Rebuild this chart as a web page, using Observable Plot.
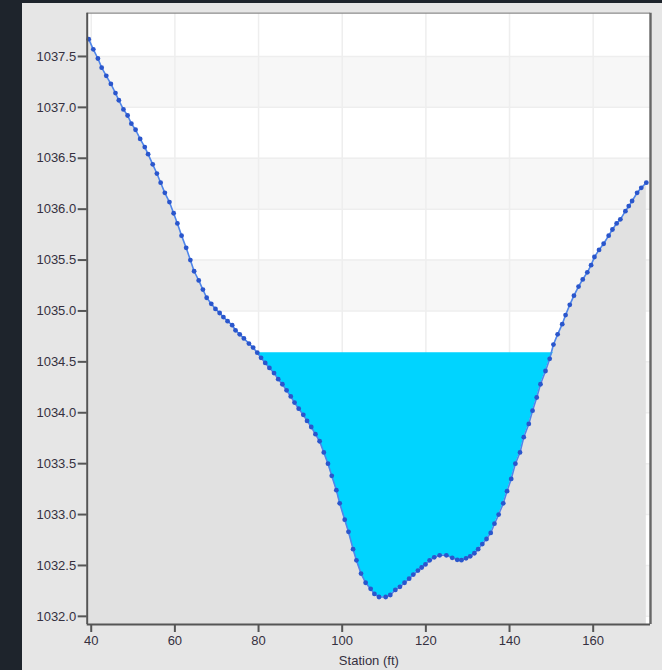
<!DOCTYPE html>
<html>
<head>
<meta charset="utf-8">
<script src="https://cdn.jsdelivr.net/npm/d3@7"></script>
<script src="https://cdn.jsdelivr.net/npm/@observablehq/plot@0.6"></script>
<style>
  html, body { margin: 0; padding: 0; background: #1e242c; width: 662px; height: 670px; overflow: hidden; }
  #panel { position: absolute; left: 22px; top: 3px; width: 640px; height: 667px; background: #e6e6e6; }
  #panel svg { display: block; }
</style>
</head>
<body>
<div id="panel"></div>
<script>
// Ground profile: station (ft) and elevation (ft)
const station = [
  39.4, 40.5, 41.6, 42.5, 43.6, 44.7, 45.8, 46.6, 47.7, 48.7,
  49.6, 50.6, 51.7, 52.8, 53.6, 54.7, 55.7, 56.6, 57.6, 58.7,
  59.7, 60.6, 61.6, 62.7, 63.7, 64.6, 65.7, 66.7, 67.6, 68.7,
  69.7, 70.7, 71.6, 72.6, 73.7, 74.5, 75.5, 76.5, 77.7, 78.7,
  79.7, 80.6, 81.6, 82.6, 83.7, 84.7, 85.7, 86.7, 87.7, 88.6,
  89.6, 90.7, 91.6, 92.6, 93.6, 94.6, 95.6, 96.6, 97.5, 98.6,
  99.4, 100.6, 101.5, 102.6, 103.4, 104.5, 105.6, 106.8, 107.7, 108.8,
  110.4, 111.5, 112.7, 113.8, 114.9, 116.0, 117.0, 118.1, 119.0, 119.9,
  120.9, 122.0, 123.3, 124.9, 126.3, 127.5, 128.5, 129.6, 130.6, 131.6,
  132.5, 133.5, 134.5, 135.5, 136.4, 137.4, 138.5, 139.4, 140.4, 141.4,
  142.5, 143.4, 144.6, 145.5, 146.5, 147.4, 148.6, 149.6, 150.5, 151.5,
  152.6, 153.4, 154.4, 155.4, 156.5, 157.5, 158.6, 159.5, 160.3, 161.4,
  162.5, 163.7, 164.6, 165.6, 166.5, 167.7, 168.5, 169.3, 170.5, 171.5,
  172.7
];
const elevation = [
  1037.67, 1037.57, 1037.48, 1037.39, 1037.31, 1037.23, 1037.14, 1037.07, 1036.98, 1036.92,
  1036.84, 1036.78, 1036.69, 1036.61, 1036.54, 1036.44, 1036.35, 1036.26, 1036.16, 1036.07,
  1035.96, 1035.86, 1035.74, 1035.62, 1035.50, 1035.39, 1035.30, 1035.21, 1035.13, 1035.07,
  1035.02, 1034.98, 1034.94, 1034.90, 1034.86, 1034.81, 1034.77, 1034.73, 1034.68, 1034.64,
  1034.59, 1034.54, 1034.49, 1034.44, 1034.39, 1034.33, 1034.28, 1034.22, 1034.16, 1034.10,
  1034.04, 1033.98, 1033.92, 1033.86, 1033.79, 1033.72, 1033.61, 1033.50, 1033.38, 1033.24,
  1033.11, 1032.95, 1032.83, 1032.66, 1032.55, 1032.42, 1032.33, 1032.27, 1032.22, 1032.19,
  1032.19, 1032.21, 1032.26, 1032.29, 1032.33, 1032.37, 1032.41, 1032.45, 1032.48, 1032.51,
  1032.55, 1032.58, 1032.60, 1032.60, 1032.575, 1032.555, 1032.552, 1032.57, 1032.59, 1032.62,
  1032.66, 1032.71, 1032.76, 1032.82, 1032.91, 1033.00, 1033.11, 1033.23, 1033.35, 1033.50,
  1033.61, 1033.76, 1033.89, 1034.02, 1034.15, 1034.28, 1034.41, 1034.53, 1034.67, 1034.77,
  1034.87, 1034.96, 1035.06, 1035.15, 1035.24, 1035.31, 1035.38, 1035.45, 1035.53, 1035.60,
  1035.66, 1035.74, 1035.80, 1035.86, 1035.90, 1035.98, 1036.03, 1036.08, 1036.16, 1036.21,
  1036.26
];
const waterSurface = 1034.59;

const xTicks = [40, 60, 80, 100, 120, 140, 160];
const yTicks = [1032.0, 1032.5, 1033.0, 1033.5, 1034.0, 1034.5, 1035.0, 1035.5, 1036.0, 1036.5, 1037.0, 1037.5];
const shadedBandLows = [1032.0, 1033.0, 1034.0, 1035.0, 1036.0, 1037.0];
const xDomain = [39.04, 173.7];
const yDomain = [1031.92, 1037.925];
const xLabel = "Station (ft)";

const profile = station.map((s, i) => ({station: s, elev: elevation[i]}));

const chart = Plot.plot({
  width: 640,
  height: 667,
  marginLeft: 64.7,
  marginTop: 9.7,
  marginRight: 12,
  marginBottom: 46,
  style: {background: "transparent", fontFamily: "'Liberation Sans', Arial, sans-serif", fontSize: "13px", color: "#353040"},
  x: {domain: xDomain},
  y: {domain: yDomain},
  marks: [
    // plot background and alternating bands
    Plot.rect([0], {x1: xDomain[0], x2: xDomain[1], y1: yDomain[0], y2: yDomain[1], fill: "#ffffff"}),
    Plot.rect(shadedBandLows, {x1: xDomain[0], x2: xDomain[1], y1: d => d, y2: d => d + 0.5, fill: "#f7f7f7"}),
    Plot.gridY(yTicks, {stroke: "#eeeeee", strokeOpacity: 1, strokeWidth: 1.5}),
    Plot.gridX(xTicks, {stroke: "#eeeeee", strokeOpacity: 1, strokeWidth: 1.5}),
    // ground fill
    Plot.areaY(profile, {x: "station", y1: yDomain[0], y2: "elev", fill: "#e1e1e1"}),
    // water
    Plot.areaY(profile, {x: "station", y1: d => Math.min(d.elev, waterSurface), y2: waterSurface, fill: "#00d4ff"}),
    // ground line and points
    Plot.line(profile, {x: "station", y: "elev", stroke: "#4f86ea", strokeWidth: 1.6}),
    Plot.dot(profile, {x: "station", y: "elev", r: 2.4, fill: "#2a56cc", stroke: "none"}),
    // frame
    Plot.ruleY([yDomain[1]], {stroke: "#8a8a8a", strokeWidth: 1.2}),
    Plot.ruleX([xDomain[1]], {stroke: "#666666", strokeWidth: 2.4}),
    Plot.ruleX([xDomain[0]], {stroke: "#555555", strokeWidth: 2}),
    Plot.ruleY([yDomain[0]], {stroke: "#555555", strokeWidth: 2}),
    // axes
    Plot.axisY(yTicks, {tickSize: 9, tickPadding: 2, tickFormat: d => d.toFixed(1), label: null, stroke: "#555", strokeWidth: 2}),
    Plot.axisX(xTicks, {tickSize: 8, tickPadding: 3, tickFormat: d => String(d), label: xLabel, labelAnchor: "center", labelArrow: "none", labelOffset: 40, stroke: "#555", strokeWidth: 2})
  ]
});
document.getElementById("panel").appendChild(chart);
</script>
</body>
</html>
